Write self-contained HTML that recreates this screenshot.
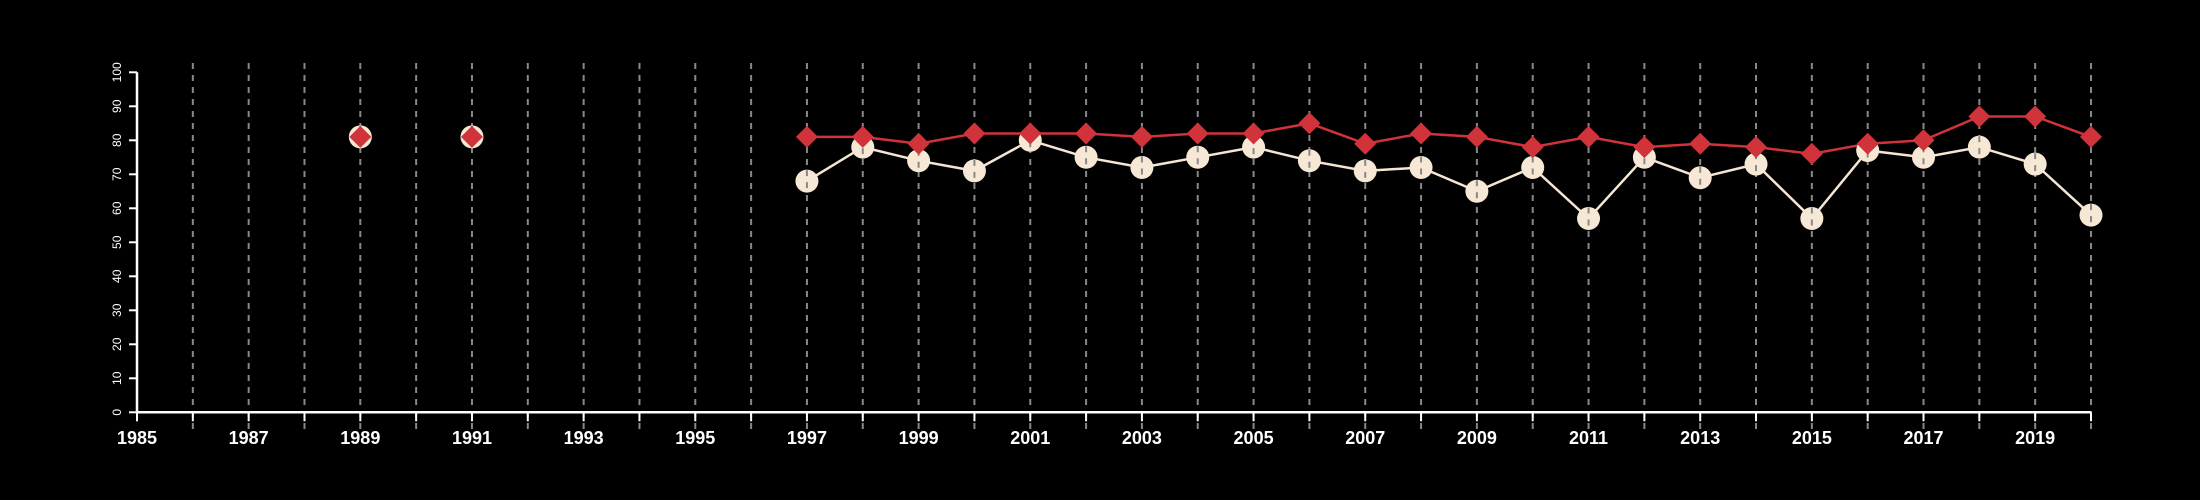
<!DOCTYPE html>
<html><head><meta charset="utf-8"><style>
html,body{margin:0;padding:0;background:#000;}
svg{display:block;font-family:"Liberation Sans",Arial,sans-serif;}
</style></head><body>
<svg id="chart" width="2200" height="500" viewBox="0 0 2200 500" xmlns="http://www.w3.org/2000/svg">
<rect width="2200" height="500" fill="#000"/>
<g id="grid"></g>
<g id="axes"></g>
<g id="series"></g>
</svg>
<script>
const years = [1989,1991,1997,1998,1999,2000,2001,2002,2003,2004,2005,2006,2007,2008,2009,2010,2011,2012,2013,2014,2015,2016,2017,2018,2019,2020];
const whiteValues = [81,81,68,78,74,71,80,75,72,75,78,74,71,72,65,72,57,75,69,73,57,77,75,78,73,58];
const redValues = [81,81,81,81,79,82,82,82,81,82,82,85,79,82,81,78,81,78,79,78,76,79,80,87,87,81];
const yTicks = [0,10,20,30,40,50,60,70,80,90,100];
const xLabels = [1985,1987,1989,1991,1993,1995,1997,1999,2001,2003,2005,2007,2009,2011,2013,2015,2017,2019];

const NS = "http://www.w3.org/2000/svg";
const X0=137, X1=2091, Y0=412.3, Y1=72.3;
const xs = y => X0 + (y-1985)*(X1-X0)/35;
const ys = v => Y0 - v*(Y0-Y1)/100;
function mk(tag, attrs, parent){const e=document.createElementNS(NS,tag);for(const k in attrs)e.setAttribute(k,attrs[k]);parent.appendChild(e);return e;}
const grid=document.getElementById('grid'), axes=document.getElementById('axes'), ser=document.getElementById('series');

for(let yr=1986; yr<=2020; yr++){
  const g=mk('line',{x1:xs(yr),x2:xs(yr),y1:63,y2:430,stroke:'#888','stroke-width':2,'stroke-dasharray':'6,6'},grid);
  
  
}
const xa=mk('line',{x1:X0,x2:X1,y1:Y0,y2:Y0,stroke:'#fff','stroke-width':2.5},axes);


const ya=mk('line',{x1:X0,x2:X0,y1:Y0,y2:Y1,stroke:'#fff','stroke-width':2.5},axes);


for(let yr=1985; yr<=2020; yr++){
  const t=mk('line',{x1:xs(yr),x2:xs(yr),y1:Y0,y2:Y0+9,stroke:'#fff','stroke-width':2},axes);
  
  
}
xLabels.forEach(yr=>{
  const t=mk('text',{x:xs(yr),y:439,fill:'#fff','font-size':18,'font-weight':'bold','text-anchor':'middle','dominant-baseline':'middle'},axes);
  t.textContent=yr;
  
  
});
yTicks.forEach(v=>{
  const t=mk('line',{x1:X0-8,x2:X0,y1:ys(v),y2:ys(v),stroke:'#fff','stroke-width':2},axes);
  
  
  const l=mk('text',{x:0,y:0,fill:'#fff','font-size':12,'text-anchor':'middle','dominant-baseline':'middle',transform:`translate(118,${ys(v)}) rotate(-90)`},axes);
  l.textContent=v;
  
  
});

function poly(vals,color,name){
  const pts=[];for(let i=2;i<years.length;i++)pts.push(xs(years[i])+','+ys(vals[i]));
  const p=mk('polyline',{points:pts.join(' '),fill:'none',stroke:color,'stroke-width':2.5},ser);
  
  
}
poly(whiteValues,'#f5e6d3','white-series-line');
poly(redValues,'#d0333a','red-series-line');
years.forEach((yr,i)=>{
  const c=mk('circle',{cx:xs(yr),cy:ys(whiteValues[i]),r:11.5,fill:'#f7e8d6'},ser);
  
  
  const gl=mk('line',{x1:xs(yr),x2:xs(yr),y1:ys(whiteValues[i])-11,y2:ys(whiteValues[i])+11,stroke:'#888','stroke-width':2,'stroke-dasharray':'6,6'},ser);
  
  
});
years.forEach((yr,i)=>{
  const x=xs(yr), y=ys(redValues[i]), r=11;
  const d=mk('polygon',{points:`${x},${y-r} ${x+r},${y} ${x},${y+r} ${x-r},${y}`,fill:'#d0333a'},ser);
  
  
});
</script>
</body></html>
